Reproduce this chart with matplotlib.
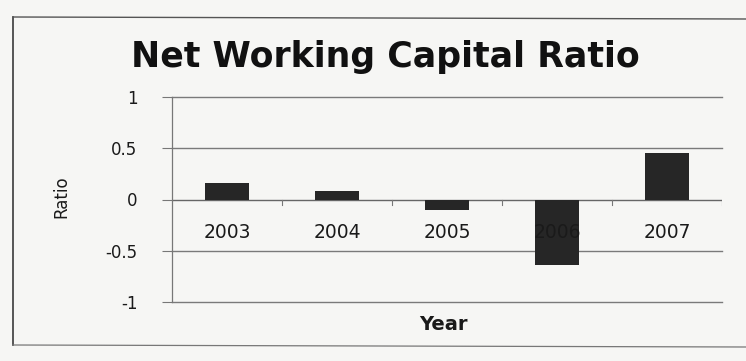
import matplotlib
matplotlib.use("Agg")
import matplotlib.pyplot as plt
from matplotlib.lines import Line2D

years = ["2003", "2004", "2005", "2006", "2007"]
ratios = [0.16, 0.08, -0.10, -0.64, 0.45]
y_ticks = [-1, -0.5, 0, 0.5, 1]
y_tick_labels = ["-1", "-0.5", "0", "0.5", "1"]

W, H = 746, 361
fig = plt.figure(figsize=(W / 100, H / 100), dpi=100)
fig.patch.set_facecolor("#f6f6f4")

# chart frame
fig.add_artist(Line2D([13 / W, 13 / W], [1 - 17 / H, 1 - 345 / H], color="#3a3a3a", lw=1.2,
                      transform=fig.transFigure))
fig.add_artist(Line2D([13 / W, 1.0], [1 - 17 / H, 1 - 19 / H], color="#555555", lw=1.0,
                      transform=fig.transFigure))
fig.add_artist(Line2D([13 / W, 1.0], [1 - 345 / H, 1 - 347 / H], color="#777777", lw=0.9,
                      transform=fig.transFigure))

ax = fig.add_axes([172 / W, 1 - 302 / H, 550 / W, 205 / H])
ax.set_facecolor("none")

x = list(range(len(years)))
ax.bar(x, ratios, width=0.4, color="#262626", zorder=3)

ax.set_xlim(-0.5, len(years) - 0.5)
ax.set_ylim(-1, 1)
ax.set_yticks(y_ticks)
ax.set_yticklabels(y_tick_labels, fontsize=12, color="#1a1a1a")
ax.tick_params(axis="y", length=7, width=0.8, color="#777777", pad=18)

# horizontal gridlines
for t in y_ticks:
    if t != 0:
        ax.axhline(t, color="#7a7a7a", lw=1.0, zorder=1, clip_on=False)

for s in ["top", "right", "bottom"]:
    ax.spines[s].set_visible(False)
ax.spines["left"].set_color("#777777")
ax.spines["left"].set_linewidth(0.9)

# category axis at zero, labels beside it
ax.axhline(0, color="#666666", lw=1.0, zorder=2)
ax.set_xticks([])
for i, lab in enumerate(years):
    ax.text(i, -0.32, lab, ha="center", va="center", fontsize=13.5, color="#1a1a1a",
            family="DejaVu Sans", zorder=4)
for b in [0.5, 1.5, 2.5, 3.5, 4.5]:
    ax.plot([b, b], [0, -0.05], color="#777777", lw=0.8, zorder=2)

fig.text(61 / W, 1 - 197 / H, "Ratio", rotation=90, ha="center", va="center",
         fontsize=12, family="Liberation Sans Narrow", color="#1a1a1a")
fig.text(443 / W, 1 - 325 / H, "Year", ha="center", va="center", fontsize=14,
         fontweight="bold", color="#1a1a1a")
fig.text(385 / W, 1 - 57 / H, "Net Working Capital Ratio", ha="center", va="center",
         fontsize=25, fontweight="bold", family="DejaVu Sans", color="#111111")

fig.savefig("out.png", dpi=100, facecolor=fig.get_facecolor())
